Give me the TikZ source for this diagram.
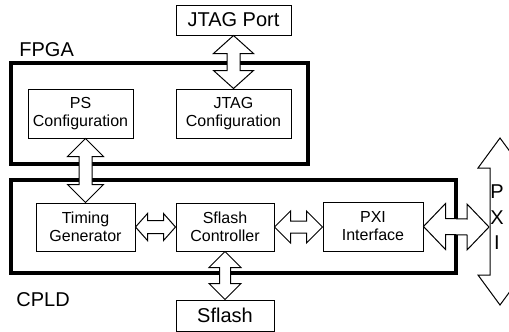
\documentclass[tikz,border=0pt]{standalone}
\usepackage{fontspec}
\setmainfont{Liberation Sans}
\usetikzlibrary{calc}

\tikzset{
  blk/.style={draw, line width=0.5pt, inner sep=0pt, align=center, font=\fontsize{8}{9}\selectfont},
  bigblk/.style={draw, line width=0.5pt, inner sep=0pt, font=\fontsize{10}{12}\selectfont},
  chip/.style={draw, line width=1.6pt, inner sep=0pt},
  lbl/.style={inner sep=0pt, font=\fontsize{10}{12}\selectfont},
  fat/.style={draw, fill=white, line width=0.5pt, line join=miter},
}

% fat double arrows: from, to, head half width, shaft half width, head length
\newcommand{\vfat}[5]{%
  \draw[fat] (#1) -- ($(#1)+(#3,#5)$) -- ($(#1)+(#4,#5)$) -- ($(#2)+(#4,-#5)$)
    -- ($(#2)+(#3,-#5)$) -- (#2) -- ($(#2)+(-#3,-#5)$) -- ($(#2)+(-#4,-#5)$)
    -- ($(#1)+(-#4,#5)$) -- ($(#1)+(-#3,#5)$) -- cycle;}
\newcommand{\hfat}[5]{%
  \draw[fat] (#1) -- ($(#1)+(#5,-#3)$) -- ($(#1)+(#5,-#4)$) -- ($(#2)+(-#5,-#4)$)
    -- ($(#2)+(-#5,-#3)$) -- (#2) -- ($(#2)+(-#5,#3)$) -- ($(#2)+(-#5,#4)$)
    -- ($(#1)+(#5,#4)$) -- ($(#1)+(#5,#3)$) -- cycle;}

\begin{document}
\begin{tikzpicture}[x=0.5pt, y=-0.5pt]
	\useasboundingbox (0,0) rectangle (509,332);

	% CHIP OUTLINES
	\node[chip, minimum width=148.5pt, minimum height=50.5pt] (fpga) at (159.5,113.5) {};
	\node[chip, minimum width=222.5pt, minimum height=46.5pt] (cpld) at (233.5,226.5) {};
	\node[lbl, anchor=base west] (fpgalbl) at (19,56) {FPGA};
	\node[lbl, anchor=base west] (cpldlbl) at (16,306) {CPLD};

	% BLOCKS
	\node[bigblk, minimum width=57.5pt, minimum height=15pt] (jport) at (233.5,20) {JTAG Port};
	\node[blk, minimum width=52.5pt, minimum height=24.5pt] (ps) at (80.5,113.5) {PS\\Configuration};
	\node[blk, minimum width=57.5pt, minimum height=24.5pt] (jcfg) at (233.5,113.5) {JTAG\\Configuration};
	\node[blk, minimum width=49.5pt, minimum height=24pt] (timing) at (85.5,227) {Timing\\Generator};
	\node[blk, minimum width=49pt, minimum height=24pt] (ctrl) at (225,227) {Sflash\\Controller};
	\node[blk, minimum width=50pt, minimum height=24.5pt] (pxi) at (373,226.5) {PXI\\Interface};
	\node[bigblk, minimum width=49pt, minimum height=15.5pt] (sflash) at (225,315.5) {Sflash};

	% PXI BUS
	\coordinate (bustop) at (500,138);
	\coordinate (busbot) at (500,305);
	\vfat{bustop}{busbot}{22}{10}{30}
	\node[lbl] (busp) at (497,192) {P};
	\node[lbl] (busx) at (497,218) {X};
	\node[lbl] (busi) at (497,243) {I};

	% CONNECTORS
	\coordinate (psout) at (timing.north |- ps.south);
	\coordinate (pxiin) at (pxi.west |- ctrl.east);
	\coordinate (busin) at (489,227);
	\vfat{jport.south}{jcfg.north}{20}{6.5}{18}
	\vfat{psout}{timing.north}{18}{6.5}{18}
	\vfat{ctrl.south}{sflash.north}{16}{5.5}{16}
	\hfat{timing.east}{ctrl.west}{13.5}{6.5}{12}
	\hfat{ctrl.east}{pxiin}{16}{6}{16}
	\hfat{pxi.east}{busin}{23}{8}{22}
\end{tikzpicture}
\end{document}
